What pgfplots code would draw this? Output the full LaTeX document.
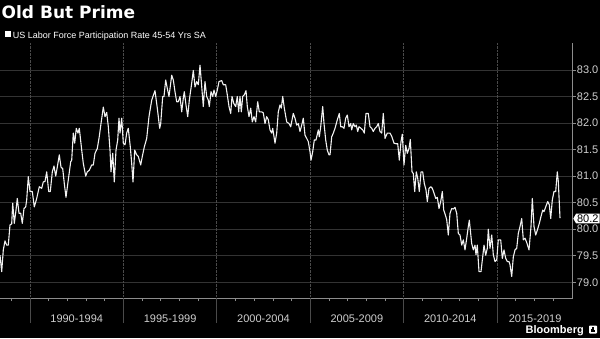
\documentclass[border=0pt]{standalone}
\usepackage{pgfplots}
\pgfplotsset{compat=1.18}
\usetikzlibrary{shapes.symbols}
\usepackage{fontspec}
\setmainfont{Liberation Sans}
\newfontfamily\titlefont{DejaVu Sans}
\definecolor{gridc}{HTML}{333333}
\definecolor{sepc}{HTML}{4A4A4A}
\definecolor{axc}{HTML}{8C8C8C}
\definecolor{labc}{HTML}{CFCFCF}
\definecolor{linec}{HTML}{F2F2F2}
\begin{document}
\begin{tikzpicture}
\fill[black] (0,0) rectangle (600pt,338pt);
\node[anchor=base west, inner sep=0, text=white, font=\titlefont\bfseries\fontsize{17}{20}\selectfont] at (1.5pt,319.7pt) {Old But Prime};
\fill[white] (5pt,300.7pt) rectangle (11pt,306.5pt);
\node[anchor=base west, inner sep=0, text=white, font=\fontsize{9}{11}\selectfont] at (12.7pt,299.7pt) {US Labor Force Participation Rate 45-54 Yrs SA};
\begin{axis}[
  at={(0pt,40pt)}, anchor=south west,
  scale only axis, width=572.7pt, height=255pt,
  xmin=1988.394, xmax=2019.052,
  ymin=78.704, ymax=83.507,
  clip=false,
  axis x line*=bottom, axis y line*=right,
  axis line style={draw=axc, line width=0.6pt},
  tick align=outside,
  xtick={1992.5,1997.5,2002.5,2007.5,2012.5,2017.04},
  xticklabels={1990-1994,1995-1999,2000-2004,2005-2009,2010-2014,2015-2019},
  major x tick style={draw=none},
  minor xtick={1989,1991,1992,1993,1994,1996,1997,1998,1999,2001,2002,2003,2004,2006,2007,2008,2009,2011,2012,2013,2014,2016,2017,2018},
  minor tick length=3pt,
  minor x tick style={draw=axc, line width=0.6pt},
  extra x ticks={1990,1995,2000,2005,2010,2015},
  extra x tick labels={},
  extra x tick style={major tick length=25pt, major x tick style={draw=sepc, line width=0.8pt}, grid=major, major x grid style={sepc, densely dotted, line width=0.8pt}},
  ytick={79,79.5,80,80.5,81,81.5,82,82.5,83},
  yticklabels={79.0,79.5,80.0,80.5,81.0,81.5,82.0,82.5,83.0},
  ymajorgrids, y grid style={gridc, line width=0.8pt},
  major y tick style={draw=axc, line width=0.6pt}, major tick length=3pt,
  xticklabel style={text=labc, font=\fontsize{11}{13}\selectfont, yshift=-10.5pt},
  yticklabel style={text=labc, font=\fontsize{11}{13}\selectfont, inner sep=1pt},
]
\addplot[linec, line width=1.1pt, line join=round] coordinates {
(1988.394,79.51)(1988.485,79.20)(1988.571,79.61)(1988.662,79.78)(1988.753,79.70)(1988.838,79.70)
(1988.929,80.08)(1989.020,80.10)(1989.074,80.49)(1989.160,80.11)(1989.251,80.36)(1989.320,80.58)
(1989.411,80.30)(1989.502,80.30)(1989.588,80.11)(1989.679,80.39)(1989.770,80.42)(1989.823,80.55)
(1989.909,80.99)(1990.000,80.71)(1990.123,80.71)(1990.230,80.42)(1990.359,80.58)(1990.498,80.80)
(1990.626,80.77)(1990.712,80.89)(1990.803,80.90)(1990.894,81.08)(1991.001,80.71)(1991.087,80.71)
(1991.194,81.08)(1991.285,81.19)(1991.376,81.00)(1991.461,81.17)(1991.568,81.40)(1991.660,81.17)
(1991.751,81.14)(1991.836,80.86)(1991.927,80.60)(1992.050,80.93)(1992.179,81.27)(1992.232,81.30)
(1992.318,81.81)(1992.393,81.62)(1992.478,81.90)(1992.570,81.81)(1992.639,81.90)(1992.768,81.49)
(1992.853,81.24)(1992.982,81.00)(1993.067,81.08)(1993.174,81.11)(1993.303,81.21)(1993.389,81.21)
(1993.480,81.43)(1993.603,81.52)(1993.710,81.75)(1993.801,81.99)(1993.924,82.30)(1994.015,82.12)
(1994.106,82.20)(1994.192,81.93)(1994.283,81.49)(1994.336,81.08)(1994.427,81.43)(1994.513,80.89)
(1994.604,81.49)(1994.695,81.68)(1994.764,82.09)(1994.818,81.81)(1994.909,82.09)(1994.995,81.62)
(1995.086,81.59)(1995.177,81.81)(1995.262,81.90)(1995.369,81.55)(1995.444,81.24)(1995.514,80.89)
(1995.605,81.49)(1995.712,81.40)(1995.798,81.37)(1995.926,81.21)(1996.012,81.37)(1996.119,81.55)
(1996.247,81.71)(1996.370,82.12)(1996.515,82.43)(1996.691,82.61)(1996.814,82.28)(1996.943,81.90)
(1996.997,81.99)(1997.104,82.50)(1997.173,82.50)(1997.264,82.81)(1997.350,82.65)(1997.441,82.50)
(1997.586,82.90)(1997.671,82.81)(1997.762,82.59)(1997.853,82.40)(1997.939,82.40)(1998.030,82.50)
(1998.121,82.21)(1998.207,82.47)(1998.260,82.59)(1998.351,82.34)(1998.442,82.12)(1998.528,82.43)
(1998.656,82.75)(1998.742,82.99)(1998.833,82.68)(1998.924,82.78)(1999.010,82.72)(1999.101,83.09)
(1999.192,82.69)(1999.277,82.31)(1999.368,82.78)(1999.459,82.50)(1999.545,82.43)(1999.599,82.31)
(1999.689,82.59)(1999.781,82.50)(1999.850,82.62)(1999.941,82.50)(2000.027,82.62)(2000.118,82.78)
(2000.262,82.80)(2000.348,82.72)(2000.476,82.72)(2000.562,82.53)(2000.653,82.31)(2000.744,82.18)
(2000.814,82.50)(2000.905,82.37)(2001.012,82.31)(2001.097,82.50)(2001.172,82.21)(2001.242,82.50)
(2001.312,82.21)(2001.386,82.50)(2001.472,82.53)(2001.563,82.61)(2001.633,82.31)(2001.724,82.12)
(2001.815,82.28)(2001.900,82.02)(2001.991,82.12)(2002.082,82.02)(2002.189,82.40)(2002.275,82.21)
(2002.404,82.21)(2002.489,82.19)(2002.580,81.99)(2002.671,82.12)(2002.757,82.06)(2002.848,81.87)
(2002.939,81.81)(2002.993,81.90)(2003.115,81.62)(2003.206,81.81)(2003.292,82.21)(2003.383,82.34)
(2003.453,82.28)(2003.528,82.50)(2003.614,82.28)(2003.742,82.02)(2003.865,81.99)(2003.956,81.93)
(2004.095,82.18)(2004.186,82.09)(2004.277,81.96)(2004.363,81.99)(2004.454,81.84)(2004.545,81.96)
(2004.630,82.09)(2004.721,81.77)(2004.812,81.71)(2004.898,81.65)(2004.989,81.46)(2005.043,81.30)
(2005.134,81.46)(2005.219,81.68)(2005.310,81.68)(2005.434,81.87)(2005.487,81.74)(2005.562,81.93)
(2005.669,82.31)(2005.739,81.99)(2005.830,81.68)(2005.915,81.49)(2006.006,81.40)(2006.060,81.40)
(2006.151,81.74)(2006.237,81.81)(2006.328,81.90)(2006.451,82.06)(2006.558,82.18)(2006.633,81.93)
(2006.718,81.93)(2006.809,81.90)(2006.900,82.09)(2006.986,82.15)(2007.077,81.93)(2007.168,81.99)
(2007.221,81.87)(2007.307,81.99)(2007.398,81.93)(2007.468,81.96)(2007.543,81.84)(2007.612,81.93)
(2007.719,81.90)(2007.810,81.87)(2007.896,81.81)(2007.987,82.18)(2008.110,82.18)(2008.201,81.93)
(2008.292,81.90)(2008.378,81.84)(2008.469,81.90)(2008.560,81.93)(2008.645,81.99)(2008.736,81.84)
(2008.827,81.81)(2008.913,82.18)(2009.004,81.71)(2009.127,81.81)(2009.272,81.81)(2009.363,81.75)
(2009.486,81.62)(2009.593,81.61)(2009.684,81.61)(2009.770,81.30)(2009.861,81.65)(2009.930,81.79)
(2010.021,81.21)(2010.112,81.58)(2010.198,81.43)(2010.289,81.52)(2010.359,81.69)(2010.450,81.08)
(2010.519,81.05)(2010.594,80.71)(2010.680,81.08)(2010.755,80.96)(2010.841,80.71)(2010.932,81.08)
(2011.022,81.08)(2011.108,80.86)(2011.199,80.74)(2011.269,80.52)(2011.360,80.77)(2011.451,80.80)
(2011.537,80.77)(2011.628,80.68)(2011.719,80.58)(2011.804,80.60)(2011.895,80.39)(2011.986,80.52)
(2012.072,80.71)(2012.147,80.36)(2012.232,80.27)(2012.307,80.18)(2012.393,79.89)(2012.484,80.30)
(2012.575,80.39)(2012.661,80.38)(2012.752,80.41)(2012.843,80.30)(2012.929,79.92)(2013.020,79.89)
(2013.111,79.70)(2013.196,79.80)(2013.287,79.61)(2013.378,79.83)(2013.464,80.05)(2013.518,80.17)
(2013.645,79.73)(2013.731,79.61)(2013.822,79.70)(2013.875,79.52)(2013.945,79.70)(2014.036,79.20)
(2014.143,79.20)(2014.234,79.48)(2014.304,79.70)(2014.395,79.51)(2014.480,79.64)(2014.534,80.00)
(2014.625,79.64)(2014.716,79.89)(2014.802,79.52)(2014.893,79.39)(2014.984,79.42)(2015.069,79.80)
(2015.198,79.80)(2015.284,79.45)(2015.375,79.61)(2015.466,79.45)(2015.551,79.39)(2015.642,79.39)
(2015.696,79.33)(2015.787,79.11)(2015.873,79.48)(2015.964,79.61)(2016.055,79.64)(2016.140,79.92)
(2016.231,80.05)(2016.322,80.20)(2016.408,79.80)(2016.499,79.83)(2016.590,79.75)(2016.713,79.61)
(2016.820,80.05)(2016.890,80.58)(2016.980,80.05)(2017.071,79.89)(2017.157,79.98)(2017.264,80.11)
(2017.355,80.24)(2017.446,80.36)(2017.516,80.33)(2017.607,80.42)(2017.714,80.52)(2017.799,80.46)
(2017.874,80.20)(2017.960,80.55)(2018.051,80.71)(2018.142,80.71)(2018.227,81.08)(2018.281,80.90)
(2018.372,80.21)
};
\node[signal, signal to=west, signal pointer angle=120, fill=white, text=black, inner sep=1pt, anchor=west, font=\fontsize{11}{13}\selectfont] at (axis cs:2019.07,80.2) {80.2};
\end{axis}
\node[anchor=base east, inner sep=0, text=white, font=\bfseries\fontsize{11}{13}\selectfont] at (584pt,4.7pt) {Bloomberg};
\fill[white, rounded corners=0.8pt] (589pt,4.5pt) rectangle (597pt,12.5pt);
\fill[black] (590.6pt,6pt) rectangle (591.8pt,9pt);
\fill[black] (592.4pt,6pt) rectangle (593.6pt,11pt);
\fill[black] (594.2pt,6pt) rectangle (595.4pt,8pt);
\pgfresetboundingbox
\useasboundingbox (0,0) rectangle (600pt,338pt);
\end{tikzpicture}
\end{document}
